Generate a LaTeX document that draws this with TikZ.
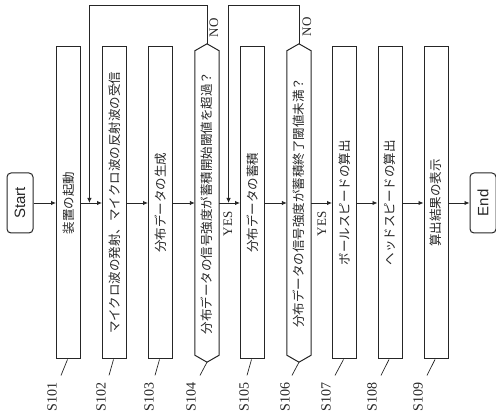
\documentclass[tikz,border=0pt]{standalone}
\usepackage{fontspec}
\usepackage{graphicx}
\setmainfont{Liberation Serif}
\newfontfamily\jpfont{Noto Sans CJK JP}
\newfontfamily\termfont{Liberation Sans}
\usetikzlibrary{arrows.meta,calc}
\begin{document}
\begin{tikzpicture}[x=1pt,y=1pt,
  stepbox/.style={draw=black!85, line width=1pt, fill=white, minimum width=24pt, minimum height=312pt, inner sep=0pt, font=\jpfont\fontsize{12.5}{13}\selectfont, text=black!85},
  decision/.style={minimum width=24pt, minimum height=304pt, inner sep=0pt, font=\jpfont\fontsize{12.5}{13}\selectfont, text=black!85},
  hexline/.style={draw=black!85, line width=1pt},
  term/.style={draw=black!85, line width=1pt, rounded corners=4pt, minimum width=26pt, minimum height=60pt, inner sep=0pt, font=\termfont\fontsize{15}{16}\selectfont, text=black!85},
  flow/.style={draw=black!85, line width=0.9pt, -{Latex[length=5pt,width=4.5pt]}},
  loopline/.style={draw=black!85, line width=0.9pt},
  lbl/.style={font=\fontsize{14}{15}\selectfont, inner sep=0pt, text=black!85},
  yn/.style={font=\fontsize{13}{14}\selectfont, inner sep=0pt, text=black!85},
  lead/.style={draw=black!85, line width=0.7pt}]
\useasboundingbox (0,0) rectangle (496,-419);

% terminals
\node[term] (start) at (20,-203) {\rotatebox{90}{Start}};
\node[term] (end) at (483,-203) {\rotatebox{90}{End}};

% process boxes
\node[stepbox] (s101) at (68.5,-203) {\rotatebox{90}{装置の起動}};
\node[stepbox] (s102) at (114.5,-203) {\rotatebox{90}{マイクロ波の発射、マイクロ波の反射波の受信}};
\node[stepbox] (s103) at (160.5,-203) {\rotatebox{90}{分布データの生成}};
\node[decision] (s104) at (207,-203) {\rotatebox{90}{分布データの信号強度が蓄積開始閾値を超過？}};
\node[stepbox] (s105) at (252.5,-203) {\rotatebox{90}{分布データの蓄積}};
\node[decision] (s106) at (299,-203) {\rotatebox{90}{分布データの信号強度が蓄積終了閾値未満？}};
\node[stepbox] (s107) at (344.5,-203) {\rotatebox{90}{ボールスピードの算出}};
\node[stepbox] (s108) at (390,-203) {\rotatebox{90}{ヘッドスピードの算出}};
\node[stepbox] (s109) at (436,-203) {\rotatebox{90}{算出結果の表示}};

% decision outlines
\foreach \d in {s104,s106}{
  \draw[hexline] (\d.north west) -- ([yshift=7pt]\d.north) -- (\d.north east) -- (\d.south east) -- ([yshift=-7pt]\d.south) -- (\d.south west) -- cycle;
}

% main flow
\draw[flow] (start.east) -- (s101.west);
\draw[flow] (s101.east) -- (s102.west);
\draw[flow] (s102.east) -- (s103.west);
\draw[flow] (s103.east) -- (s104.west);
\draw[flow] (s104.east) -- (s105.west);
\draw[flow] (s105.east) -- (s106.west);
\draw[flow] (s106.east) -- (s107.west);
\draw[flow] (s107.east) -- (s108.west);
\draw[flow] (s108.east) -- (s109.west);
\draw[flow] (s109.east) -- (end.west);

% loops
\coordinate (p104) at ([yshift=7pt]s104.north);
\coordinate (p106) at ([yshift=7pt]s106.north);
\coordinate (j1) at ($(s101.east)!0.4!(s102.west)$);
\coordinate (j2) at ($(s104.east)!0.45!(s105.west)$);
\coordinate (t1) at ($(j1)+(0,198)$);
\coordinate (t2) at ($(j2)+(0,198)$);
\draw[flow] (p104) |- (t1) -- (j1);
\draw[flow] (p106) |- (t2) -- (j2);

% yes / no
\node[yn, rotate=90] (no1) at (214,-28) {NO};
\node[yn, rotate=90] (no2) at (307,-27) {NO};
\node[yn, rotate=90] (yes1) at (228,-224) {YES};
\node[yn, rotate=90] (yes2) at (322,-224) {YES};

% step labels
\node[lbl, rotate=90] (l101) at (52,-397) {S101};
\node[lbl, rotate=90] (l102) at (101,-397) {S102};
\node[lbl, rotate=90] (l103) at (149,-397) {S103};
\node[lbl, rotate=90] (l104) at (191,-397) {S104};
\node[lbl, rotate=90] (l105) at (244,-397) {S105};
\node[lbl, rotate=90] (l106) at (285,-397) {S106};
\node[lbl, rotate=90] (l107) at (326,-397) {S107};
\node[lbl, rotate=90] (l108) at (372,-397) {S108};
\node[lbl, rotate=90] (l109) at (418,-397) {S109};

\draw[lead] ([xshift=-1pt]s101.south) -- ($(l101.east)+(9,7)$);
\draw[lead] ([xshift=-1pt]s102.south) -- ($(l102.east)+(8,7)$);
\draw[lead] ([xshift=-1pt]s103.south) -- ($(l103.east)+(6,7)$);
\draw[lead] ([yshift=-7pt]s104.south) -- ($(l104.east)+(9,7)$);
\draw[lead] ([xshift=-1pt]s105.south) -- ($(l105.east)+(3,7)$);
\draw[lead] ([yshift=-7pt]s106.south) -- ($(l106.east)+(7,7)$);
\draw[lead] ([xshift=-1pt]s107.south) -- ($(l107.east)+(9,7)$);
\draw[lead] ([xshift=-1pt]s108.south) -- ($(l108.east)+(9,7)$);
\draw[lead] ([xshift=-1pt]s109.south) -- ($(l109.east)+(9,7)$);
\end{tikzpicture}
\end{document}
